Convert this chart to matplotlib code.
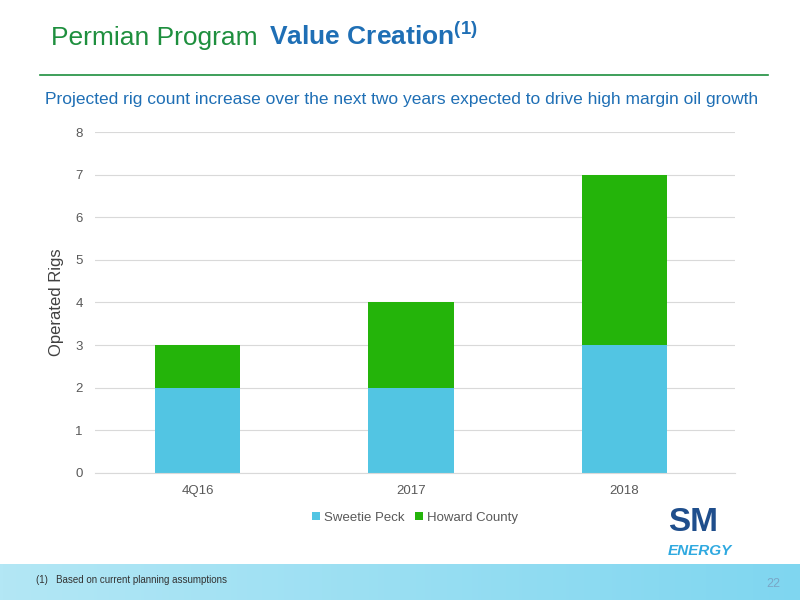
import numpy as np
import matplotlib.pyplot as plt
from matplotlib.colors import LinearSegmentedColormap

plt.rcParams['font.family'] = ['Liberation Sans', 'DejaVu Sans']
plt.rcParams['mathtext.fontset'] = 'custom'
plt.rcParams['mathtext.bf'] = 'Liberation Sans:bold'

categories = ['4Q16', '2017', '2018']
sweetie_peck = [2, 2, 3]
howard_county = [1, 2, 4]

blue = '#52C5E3'
green = '#24B40A'

fig = plt.figure(figsize=(8, 6), dpi=100)
ax = fig.add_axes([0.119, 0.212, 0.80, 0.568])

x = np.arange(len(categories))
ax.bar(x, sweetie_peck, width=0.4, color=blue, label='Sweetie Peck')
ax.bar(x, howard_county, width=0.4, bottom=sweetie_peck, color=green, label='Howard County')

ax.set_xlim(-0.48, 2.52)
ax.set_ylim(0, 8)
ax.set_xticks(x)
ax.set_xticklabels(categories)
ax.set_yticks(range(9))
ax.yaxis.grid(True, color='#d9d9d9', linewidth=0.8)
ax.set_axisbelow(True)
for s in ['top', 'right', 'left']:
    ax.spines[s].set_visible(False)
ax.spines['bottom'].set_color('#d9d9d9')
ax.tick_params(length=0, colors='#595959', labelsize=9.5, pad=9)
ax.set_ylabel('Operated Rigs', fontsize=12, color='#404040', labelpad=8)
ax.legend(loc='upper center', bbox_to_anchor=(0.5, -0.08), ncol=2, frameon=False,
          fontsize=9.5, handlelength=0.6, handleheight=0.6, columnspacing=0.8,
          handletextpad=0.3, labelcolor='#595959')

# header
fig.text(0.064, 0.925, 'Permian Program', fontsize=19, color='#1E8F3E', va='baseline')
fig.text(0.336, 0.925, r'Value Creation$^{\mathbf{(1)}}$', fontsize=19, color='#1F6FB5',
         fontweight='bold', va='baseline')
fig.add_artist(plt.Line2D([0.05, 0.96], [0.875, 0.875], color='#1E8F3E', linewidth=1.2))
fig.text(0.056, 0.827, 'Projected rig count increase over the next two years expected to drive high margin oil growth',
         fontsize=12.5, color='#1F6FB5', va='baseline')

# footer band
grad = np.linspace(0, 1, 256).reshape(1, -1)
fax = fig.add_axes([0, 0, 1, 0.06])
fax.imshow(grad, aspect='auto', cmap=LinearSegmentedColormap.from_list(
    'f', ['#B3E7F5', '#7FD6F0']), extent=[0, 1, 0, 1])
fax.axis('off')
fig.text(0.045, 0.028, '(1)   Based on current planning assumptions', fontsize=7, color='#333333')
fig.text(0.975, 0.022, '22', fontsize=9, color='#7aa7c7', ha='right')

# logo
fig.text(0.835, 0.115, 'SM', fontsize=24, fontweight='bold', color='#1F4E8C')
fig.text(0.835, 0.075, 'ENERGY', fontsize=11, fontweight='bold', color='#2FA9E0', style='italic')

fig.savefig('out.png', dpi=100)
